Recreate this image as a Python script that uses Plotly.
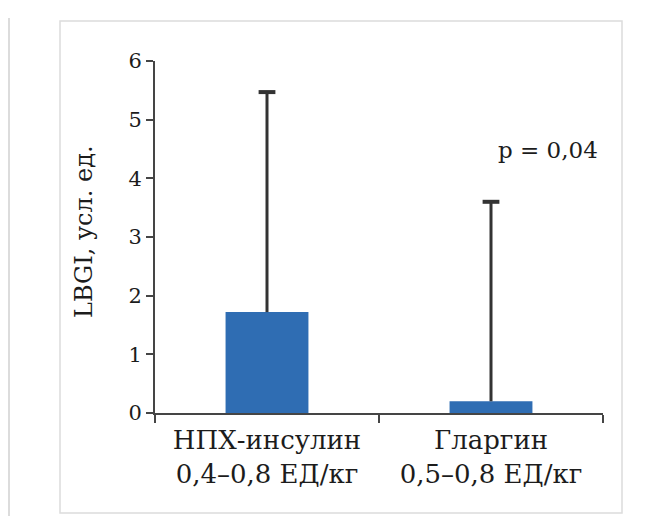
import plotly.graph_objects as go

categories = ["НПХ-инсулин<br>0,4–0,8 ЕД/кг", "Гларгин<br>0,5–0,8 ЕД/кг"]
values = [1.72, 0.20]
upper = [5.47, 3.60]
y_title = "LBGI, усл. ед."
p_text = "p = 0,04"

FONT = "DejaVu Serif"
TXT = "#1c1c1c"
AX = "#454545"
BLUE = "#2f6db3"

fig = go.Figure()
fig.add_trace(go.Bar(x=categories, y=values, marker=dict(color=BLUE, line=dict(width=0)),
                     width=0.37, showlegend=False, hoverinfo="skip"))

# error whiskers (upper only)
ex, ey = [], []
for c, v, u in zip(categories, values, upper):
    ex += [c, c, None]
    ey += [v, u, None]
fig.add_trace(go.Scatter(x=ex, y=ey, mode="lines", line=dict(color="#333333", width=3),
                         showlegend=False, hoverinfo="skip"))
fig.add_trace(go.Scatter(x=categories, y=upper, mode="markers",
                         marker=dict(symbol="line-ew", size=12, line=dict(color="#333333", width=4)),
                         showlegend=False, hoverinfo="skip"))

OFF = 8  # browser body margin
W, H = 654 - OFF, 516 - OFF
L, R, T, B = 155 - OFF, 51, 61 - OFF, 103
pw, ph = W - L - R, H - T - B

def px2paper(x, y):
    # x, y in reference window pixels
    return (x - OFF - L) / pw, (H - B - (y - OFF)) / ph

x0, y0 = px2paper(60, 21)
x1, y1 = px2paper(622, 513)
fig.add_shape(type="rect", xref="paper", yref="paper", x0=x0, y0=y1, x1=x1, y1=y0,
              line=dict(color="#dcdcdc", width=1.5), layer="below")
lx, ly0 = px2paper(9, 18)
_, ly1 = px2paper(9, 516)
fig.add_shape(type="line", xref="paper", yref="paper", x0=lx, x1=lx, y0=ly1, y1=ly0,
              line=dict(color="#dcdcdc", width=2))

ax_, ay_ = px2paper(548, 150)
fig.add_annotation(text=p_text, xref="paper", yref="paper", x=ax_, y=ay_, showarrow=False,
                   xanchor="center", yanchor="middle",
                   font=dict(family=FONT, size=23, color=TXT))
tx, ty = px2paper(84, 232)
fig.add_annotation(text=y_title, xref="paper", yref="paper", x=tx, y=ty, showarrow=False,
                   xanchor="center", yanchor="middle",
                   textangle=-90, font=dict(family=FONT, size=24, color=TXT))

fig.update_layout(
    width=W, height=H, margin=dict(l=L, r=R, t=T, b=B),
    paper_bgcolor="white", plot_bgcolor="white",
    font=dict(family=FONT, color=TXT),
    xaxis=dict(showline=True, linecolor=AX, linewidth=2, ticks="outside", tickson="boundaries",
               ticklen=8, tickwidth=2, tickcolor=AX, showgrid=False, zeroline=False,
               ticklabelstandoff=3,
               tickfont=dict(family=FONT, size=26, color=TXT)),
    yaxis=dict(range=[0, 6], tickvals=[0, 1, 2, 3, 4, 5, 6], showline=True, linecolor=AX, linewidth=2,
               ticks="outside", ticklen=7, tickwidth=2, tickcolor=AX, showgrid=False, zeroline=False,
               tickfont=dict(family=FONT, size=21, color=TXT)),
)
fig.write_html("out.html")
